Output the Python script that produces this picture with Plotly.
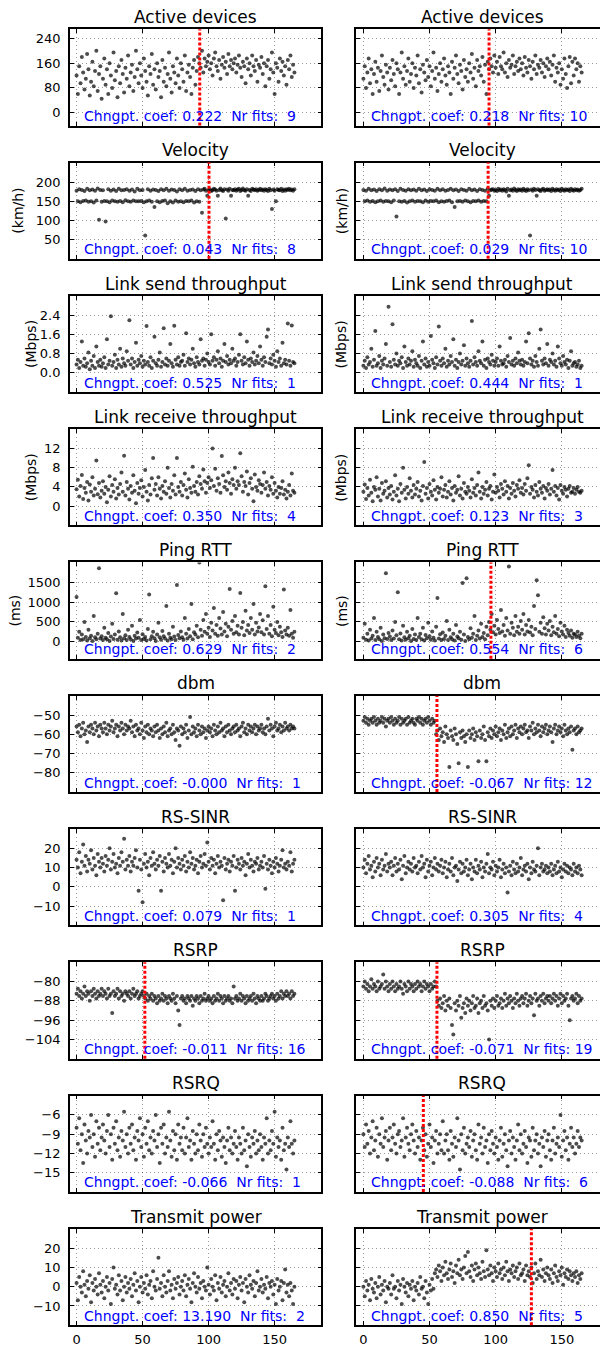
import plotly.graph_objects as go

# sample index (time axis) shared by every panel
minutes = list(range(166))

active_l = [120,60,150,95,180,130,75,110,190,140,55,100,165,85,135,200,70,125,150,45,
110,175,90,140,60,160,120,80,195,105,135,50,150,95,170,125,65,145,110,185,
85,130,155,70,115,200,140,95,160,120,80,175,135,100,55,150,125,190,90,140,
75,160,115,135,50,170,100,145,85,125,195,110,65,150,130,95,175,120,80,160,
140,100,185,70,130,155,115,60,145,170,90,135,180,160,145,200,130,175,150,165,
185,140,160,120,175,195,150,135,170,110,155,180,145,165,125,190,150,170,140,160,
175,130,155,185,145,115,165,150,95,175,140,160,120,185,150,135,170,100,155,145,
180,125,160,85,150,170,110,140,195,130,60,160,145,100,175,135,165,120,150,90,
170,140,185,115,155,130]
active_r = [110,150,80,130,175,95,140,60,125,165,100,145,70,135,185,115,90,155,130,75,
145,105,170,125,85,160,140,60,130,195,110,150,90,135,175,100,125,160,80,145,
120,185,95,140,65,155,130,105,170,115,150,85,135,195,110,145,70,125,160,100,
140,175,120,90,150,130,60,165,110,145,185,125,95,155,135,75,170,115,140,100,
160,130,190,110,145,85,170,135,150,120,180,100,155,60,165,140,175,150,130,185,
145,165,125,180,150,140,195,130,160,115,170,145,155,185,125,150,165,135,175,140,
160,120,180,145,130,170,150,110,165,140,185,125,155,145,170,130,160,115,150,175,
140,165,120,155,185,100,145,130,160,90,140,110,175,125,80,150,180,95,165,120,
175,140,160,100,150,130]

velocity_l = [178,150,182,148,180,151,177,152,183,149,179,150,181,147,178,152,184,102,180,149,
179,151,97,150,182,148,178,152,181,150,177,149,183,151,179,148,180,153,182,150,
178,149,181,152,176,150,183,150,179,151,180,148,60,150,182,152,178,149,181,135,
180,150,177,148,182,151,179,152,183,145,178,150,181,147,180,152,176,149,182,150,
179,148,183,151,178,150,180,152,181,147,177,150,182,149,179,120,181,183,178,165,
180,182,177,179,183,181,178,165,180,184,179,177,182,105,181,178,183,165,180,179,
182,178,181,183,177,180,184,179,178,182,165,180,177,183,181,179,182,178,180,183,
179,181,178,182,180,177,183,179,130,181,178,150,182,180,179,183,177,181,178,182,
180,183,179,181,178,182]
velocity_r = [180,150,178,152,183,149,179,151,181,148,177,150,182,152,179,149,184,151,178,150,
181,148,179,152,182,110,177,150,183,149,180,151,178,147,182,150,179,152,181,149,
178,151,183,150,179,148,181,152,177,149,182,151,180,150,178,152,183,148,179,150,
182,149,178,151,180,152,183,148,179,135,181,150,177,151,182,149,180,152,178,150,
183,148,179,151,181,150,177,152,182,149,180,151,178,150,183,165,179,181,182,178,
180,177,183,179,181,178,182,180,176,183,165,179,181,178,184,180,177,182,179,181,
178,183,180,177,182,179,60,181,178,183,180,165,182,179,177,181,183,178,180,182,
179,181,177,183,180,178,182,179,181,177,183,180,178,182,179,181,177,183,180,178,
182,179,181,178,180,183]

send_l = [0.35,0.55,0.2,0.45,1.3,0.3,0.6,0.25,0.4,0.85,0.15,0.5,0.3,0.7,0.2,1.1,0.45,0.3,0.55,0.25,
0.4,0.65,0.2,1.4,0.35,0.5,2.35,0.3,0.45,0.75,0.2,0.55,0.35,1.0,0.25,0.6,0.4,0.3,0.9,0.5,
2.19,0.35,0.6,0.2,0.45,1.25,0.3,0.55,0.4,0.7,0.25,0.5,0.35,1.95,0.45,0.3,0.65,0.2,0.5,1.5,
0.4,0.3,0.55,0.85,0.25,0.45,1.85,0.35,0.6,0.3,0.5,1.2,0.4,0.25,1.96,0.55,0.35,0.65,0.3,0.45,
0.5,0.75,0.3,1.65,0.45,0.6,0.35,0.55,1.0,0.4,0.25,0.65,0.45,0.35,1.4,0.5,0.6,0.3,0.55,0.8,
0.45,0.35,1.6,0.5,0.65,0.3,0.55,0.9,0.4,0.6,0.25,0.5,1.2,0.45,0.7,0.35,0.55,0.4,1.0,0.5,
0.6,0.3,0.45,0.75,1.6,0.5,0.35,0.65,0.4,1.3,0.55,0.3,0.6,0.45,0.85,0.35,0.5,0.7,0.4,1.1,
0.55,0.3,0.65,0.45,1.5,1.8,0.4,0.6,0.35,0.75,0.5,0.25,0.9,0.45,0.6,0.3,1.25,0.4,0.55,0.35,
2.05,0.5,0.3,1.97,0.45,0.4]
send_r = [0.3,0.5,0.2,0.65,0.35,0.45,1.0,0.25,0.55,1.74,0.3,0.4,0.7,0.2,0.5,0.35,0.6,1.2,0.3,2.75,
0.45,0.25,2.02,0.55,0.35,0.8,0.3,0.5,0.4,0.65,0.2,1.1,0.45,0.3,0.6,0.35,0.5,0.9,0.25,0.55,
0.4,0.3,0.7,0.2,0.5,1.3,0.35,0.6,0.25,0.45,0.3,1.53,0.55,0.4,0.2,0.65,0.35,1.93,0.5,0.3,
0.6,0.4,1.0,0.25,0.5,0.35,0.7,0.45,1.4,0.3,0.55,0.2,0.45,0.8,0.35,0.5,1.15,0.3,0.6,0.4,
0.25,0.5,2.16,0.35,0.65,0.45,0.3,0.9,0.5,0.4,1.3,0.3,0.55,0.2,0.6,0.45,0.35,0.75,0.5,0.3,
0.45,0.6,0.3,1.1,0.5,0.35,0.4,0.55,0.25,0.7,0.45,1.45,0.35,0.5,0.3,0.6,0.4,0.85,0.5,0.35,
0.55,0.3,0.45,1.3,0.4,1.65,0.6,0.35,0.5,0.25,0.7,0.45,0.3,1.0,1.8,0.5,0.35,0.6,0.4,1.2,
0.3,0.55,0.45,0.8,0.35,0.5,0.25,1.1,0.6,0.4,0.3,0.7,0.45,0.35,0.55,0.2,0.5,0.9,0.3,0.4,
0.45,0.25,0.35,0.5,0.2,0.3]

recv_l = [3.5,5.5,2.0,4.2,6.5,1.5,3.8,2.8,5.0,1.2,4.5,3.0,6.0,2.2,3.6,9.5,2.5,4.8,1.8,3.2,
5.2,2.6,4.0,0.8,3.4,6.2,2.0,4.4,3.0,5.6,1.6,3.8,2.4,4.6,7.0,3.0,10.5,2.2,5.0,3.6,
1.4,4.2,2.8,6.4,3.2,0.6,4.8,2.6,3.8,5.4,2.0,4.0,7.5,3.0,1.2,4.4,2.4,5.8,10.0,3.4,
4.6,2.2,6.0,3.6,1.6,4.2,3.0,5.2,2.6,8.0,3.8,1.8,4.6,3.2,6.4,2.4,10.0,4.0,3.0,5.0,
2.2,4.4,6.8,3.4,1.8,5.6,3.8,2.8,8.2,4.2,3.0,5.0,2.4,6.2,4.6,3.6,7.6,5.2,2.8,4.8,
6.0,3.8,5.4,12.0,4.2,7.8,3.2,5.8,4.6,2.8,10.4,6.4,4.0,5.2,3.4,7.0,4.8,2.6,5.6,4.4,
8.0,3.6,5.2,4.4,11.0,6.2,3.0,5.0,4.2,7.2,2.4,4.8,5.8,3.6,1.0,6.6,4.0,3.2,5.4,4.6,
2.8,4.4,7.0,3.6,5.0,2.2,4.2,3.4,6.0,2.6,4.8,3.2,1.8,4.0,2.6,3.8,5.2,2.4,3.4,1.6,
3.0,4.4,2.2,6.8,3.2,2.8]
recv_r = [3.0,4.5,1.5,3.8,2.2,5.5,2.8,1.0,4.0,3.4,6.0,2.0,3.6,1.2,4.8,2.6,3.2,5.2,1.8,3.8,
2.4,4.2,1.4,3.0,6.4,2.2,3.6,1.0,4.6,2.8,8.0,3.4,1.6,4.0,2.6,5.8,3.2,1.8,4.4,2.4,
3.6,5.0,2.0,3.2,1.2,4.2,9.2,2.6,3.8,1.6,4.6,3.0,2.2,5.4,3.4,1.4,4.0,2.8,3.6,6.0,
2.0,3.4,4.4,1.8,3.0,5.2,2.4,3.8,1.2,4.2,2.8,3.4,6.2,2.2,3.6,1.6,4.8,3.0,2.6,4.0,
3.2,1.8,5.6,2.8,3.8,2.2,4.4,7.0,3.0,1.6,4.0,2.6,3.4,5.0,2.2,3.6,4.2,1.4,3.0,6.6,
2.8,4.0,3.2,1.8,4.6,3.6,2.4,5.2,3.0,4.2,1.6,3.8,2.6,4.8,3.2,2.0,4.4,3.6,5.4,2.8,
3.8,2.4,4.6,3.2,5.8,8.5,2.6,4.0,3.4,1.8,4.4,3.0,2.2,5.0,3.6,2.8,4.2,1.6,3.8,3.2,
4.6,2.4,3.6,7.5,3.0,4.2,2.2,3.8,1.4,4.4,3.2,2.6,4.0,3.4,2.0,3.6,4.2,2.8,3.0,3.8,
2.6,3.4,4.0,3.0,2.8,3.2]

ping_l = [1130,100,250,40,180,60,500,120,30,300,90,150,20,650,110,60,200,1855,80,140,
40,350,100,60,220,20,130,450,70,180,1220,50,260,110,30,700,90,160,40,300,
120,60,400,20,150,80,230,100,550,40,190,70,120,30,320,1190,60,140,250,90,
20,180,480,110,50,270,140,80,900,30,200,100,60,380,130,40,1430,170,90,260,
110,50,600,200,80,320,140,950,60,240,180,400,110,2000,300,150,550,250,700,200,
350,120,480,280,850,200,420,150,600,330,180,750,260,450,140,380,1330,300,520,200,
650,240,400,180,1230,350,500,160,780,280,420,220,600,300,950,180,480,260,360,700,
240,540,180,1400,320,650,200,420,140,880,300,220,500,160,380,240,120,1320,280,180,
350,150,800,200,100,250]
ping_r = [100,450,50,200,30,300,80,150,600,40,250,120,60,350,20,180,90,1730,70,220,
130,40,280,80,500,160,1250,60,210,30,400,110,50,250,90,150,20,320,70,180,
40,600,120,200,60,350,30,170,90,480,140,50,260,100,30,380,1100,80,190,40,
230,70,150,520,40,300,110,60,200,30,420,130,90,250,50,1480,180,20,1600,120,
60,340,100,200,650,40,150,280,80,450,120,220,60,380,160,500,300,700,240,400,
180,550,320,220,800,260,420,150,600,280,1900,200,480,350,160,650,250,380,200,520,
300,700,180,420,260,550,230,380,160,900,320,1550,1170,250,480,200,620,340,180,450,
280,520,160,380,240,650,200,320,140,480,260,180,400,120,300,220,150,280,100,200,
180,120,250,150,90,200]

dbm_l = [-56,-59,-55,-61,-57,-54,-60,-58,-64,-56,-59,-55,-57,-60,-54,-58,-56,-61,-55,-57,
-59,-54,-57,-60,-55,-58,-56,-53,-59,-57,-55,-61,-56,-58,-54,-57,-60,-55,-58,-56,
-57,-53,-59,-56,-61,-55,-58,-57,-60,-54,-58,-62,-56,-59,-55,-60,-57,-58,-61,-56,
-59,-55,-58,-62,-57,-60,-56,-59,-54,-61,-58,-57,-60,-55,-59,-63,-57,-58,-66,-56,
-60,-57,-59,-55,-62,-58,-51,-60,-56,-59,-57,-61,-55,-58,-60,-56,-59,-57,-62,-58,
-56,-59,-57,-61,-55,-58,-60,-56,-59,-54,-58,-57,-61,-56,-59,-55,-58,-60,-57,-56,
-59,-55,-58,-57,-61,-56,-54,-59,-57,-60,-55,-58,-56,-59,-57,-55,-60,-56,-58,-57,
-55,-59,-57,-60,-56,-52,-58,-55,-57,-61,-56,-54,-58,-57,-55,-59,-56,-58,-54,-57,
-56,-58,-55,-57,-56,-57]
dbm_r = [-53,-51,-54,-52,-55,-53,-52,-54,-51,-53,-55,-52,-54,-53,-51,-54,-52,-56,-53,-52,
-54,-51,-53,-55,-52,-54,-53,-51,-55,-52,-54,-53,-52,-55,-51,-54,-53,-52,-54,-55,
-52,-53,-51,-54,-52,-55,-53,-52,-54,-51,-53,-55,-52,-54,-53,-60,-58,-63,-57,-61,
-59,-64,-56,-60,-62,-77,-58,-61,-63,-57,-60,-65,-75,-59,-62,-58,-61,-64,-60,-77,
-58,-62,-60,-57,-63,-59,-61,-74,-58,-62,-60,-56,-63,-74,-59,-61,-57,-62,-58,-60,
-56,-61,-59,-57,-63,-58,-60,-55,-62,-59,-57,-61,-56,-60,-58,-55,-62,-57,-59,-56,
-60,-57,-55,-59,-58,-62,-56,-58,-54,-60,-57,-59,-55,-58,-61,-56,-59,-57,-55,-60,
-58,-56,-59,-64,-57,-55,-60,-58,-56,-59,-57,-61,-55,-58,-60,-57,-59,-56,-68,-58,
-57,-60,-56,-59,-58,-57]

sinr_l = [14,10,18,7,13,22,11,16,8,14,12,19,9,15,11,6,17,13,10,15,
12,8,16,11,14,20,9,13,17,10,12,7,15,11,18,13,25,9,14,11,
16,8,13,11,15,19,10,-2,14,9,-8,12,17,10,13,6,15,11,18,12,
9,14,11,16,-2,13,8,15,12,10,17,11,14,7,13,20,10,15,12,9,
14,11,16,8,13,10,18,12,15,9,11,14,7,13,16,10,12,17,11,23,
13,9,15,11,14,7,12,16,10,13,11,-7,15,9,12,14,8,13,11,16,
-2,10,14,12,9,15,11,13,6,12,17,10,14,11,8,13,12,15,9,11,
13,10,16,-1,12,9,14,11,7,13,10,15,12,8,11,14,19,10,12,9,
13,11,18,8,12,14]
sinr_r = [10,14,7,12,16,9,11,5,13,8,15,10,12,6,14,9,11,17,8,12,
10,13,6,11,15,8,12,9,14,4,11,16,7,10,13,9,12,8,15,10,
11,7,13,9,16,10,12,5,14,8,11,13,6,10,15,9,12,8,11,14,
7,10,13,5,9,12,8,15,6,10,11,3,9,13,7,12,8,10,14,6,
9,12,4,10,8,14,7,11,9,13,5,10,8,12,17,7,10,9,13,6,
11,8,10,14,5,9,12,7,10,-3,8,11,6,13,9,7,12,8,10,15,
6,9,11,8,12,4,10,7,13,9,8,11,20,6,10,12,8,9,11,7,
10,8,12,6,9,11,7,13,8,10,5,9,12,8,11,7,10,9,6,12,
8,10,7,11,9,6]

rsrp_l = [-85,-83,-86,-84,-87,-85,-82,-86,-84,-85,-88,-84,-86,-83,-85,-87,-84,-86,-85,-83,
-86,-84,-85,-87,-83,-86,-85,-93,-84,-86,-85,-83,-87,-84,-86,-85,-88,-84,-85,-86,
-84,-87,-85,-83,-86,-85,-84,-87,-86,-85,-84,-86,-87,-85,-88,-86,-87,-85,-88,-86,
-87,-89,-86,-88,-87,-85,-88,-86,-87,-89,-86,-87,-88,-85,-87,-89,-86,-92,-98,-87,
-86,-88,-87,-89,-86,-87,-88,-86,-90,-87,-88,-86,-87,-89,-86,-88,-87,-85,-88,-87,
-86,-88,-87,-89,-86,-88,-87,-85,-88,-86,-87,-89,-86,-88,-87,-86,-88,-87,-89,-82,
-87,-86,-88,-87,-85,-88,-86,-87,-89,-86,-88,-87,-86,-88,-85,-87,-89,-86,-87,-88,
-86,-88,-87,-85,-86,-88,-87,-86,-85,-87,-86,-88,-85,-87,-86,-84,-87,-85,-86,-84,
-86,-85,-87,-84,-86,-85]
rsrp_r = [-82,-80,-83,-81,-84,-82,-79,-83,-81,-82,-84,-80,-83,-82,-81,-77,-83,-80,-82,-84,
-81,-83,-80,-82,-84,-81,-83,-82,-80,-83,-85,-81,-82,-84,-80,-83,-81,-82,-84,-81,
-83,-80,-82,-81,-84,-82,-80,-83,-81,-82,-84,-81,-83,-82,-80,-82,-88,-90,-87,-91,
-89,-86,-92,-88,-90,-87,-91,-98,-102,-89,-92,-88,-90,-86,-95,-91,-89,-93,-87,-90,
-88,-92,-89,-86,-91,-90,-87,-93,-89,-88,-91,-86,-90,-89,-92,-104,-88,-90,-87,-91,
-88,-86,-90,-89,-87,-91,-88,-85,-90,-87,-89,-86,-88,-91,-87,-89,-85,-88,-90,-87,
-86,-89,-87,-85,-90,-88,-86,-89,-87,-94,-85,-88,-87,-90,-86,-88,-85,-89,-87,-86,
-88,-86,-89,-87,-85,-88,-86,-90,-87,-85,-89,-86,-88,-87,-85,-90,-96,-87,-86,-88,
-87,-85,-89,-86,-88,-87]

rsrq_l = [-8,-10.5,-6.5,-11.5,-9,-13.5,-7.5,-10,-12,-8.5,-9.5,-6,-11,-9,-12.5,-7,-10.5,-8,-11.5,-9.5,
-7.5,-10,-12,-8.5,-6,-11,-9,-13,-8,-10.5,-7,-11.5,-9.5,-12.5,-8.5,-10,-5.5,-11,-9,-12,
-8,-10.5,-7.5,-11.5,-9.5,-13,-8.5,-10,-6.5,-11,-9,-12.5,-8,-10.5,-7,-11.5,-9.5,-12,-8.5,-10,
-6,-11,-9,-13.5,-8,-10.5,-7.5,-12,-9.5,-11,-5.5,-10,-12.5,-8.5,-11.5,-9,-13,-7.5,-10.5,-9.5,
-11.5,-8,-12,-9.5,-6.5,-11,-10,-13,-8.5,-10.5,-12,-9,-11.5,-7.5,-10,-12.5,-9,-11,-8,-10.5,
-12,-9.5,-11,-7,-10.5,-13,-9,-11.5,-8.5,-10,-12.5,-9.5,-11,-13.5,-10,-8,-11.5,-9.5,-12,-10.5,
-8.5,-11,-13,-9.5,-10.5,-12,-8,-11.5,-10,-14,-9,-11,-12.5,-9.5,-10.5,-8.5,-12,-10,-11.5,-9,
-11,-13,-9.5,-10.5,-6.5,-12,-10,-11.5,-8.5,-10.5,-5.5,-12.5,-9.5,-11,-10,-13,-8,-11.5,-10.5,-14.5,
-9.5,-11,-7,-10.5,-12,-10]
rsrq_r = [-9,-11,-7.5,-10.5,-8.5,-12,-9.5,-7,-11.5,-10,-8,-12.5,-9,-10.5,-6.5,-11,-9.5,-8.5,-13,-10,
-8,-11.5,-9.5,-7.5,-10.5,-12,-9,-8.5,-11,-10,-6.5,-12.5,-9.5,-8,-10.5,-11.5,-9,-7.5,-10,-12,
-8.5,-11,-9.5,-13,-10,-8,-11.5,-9,-12.5,-10.5,-7.5,-11,-9.5,-13.5,-10,-8.5,-12,-10.5,-9,-11.5,
-7,-12,-10,-9,-11.5,-13,-8.5,-10.5,-12.5,-9.5,-11,-6.5,-10,-14.5,-9,-11.5,-8,-12,-10.5,-9.5,
-11,-8.5,-12.5,-10,-9,-11.5,-13,-7.5,-10.5,-9.5,-12,-8,-11,-10,-13.5,-9,-11.5,-8.5,-10.5,-12,
-9.5,-11,-13,-10,-8,-12.5,-10.5,-9,-11.5,-14,-10,-8.5,-12,-9.5,-11,-13,-10,-7.5,-11.5,-9,
-12,-10.5,-8.5,-11,-13.5,-9.5,-10,-12.5,-8,-11.5,-10,-9,-12,-10.5,-14,-9.5,-11,-8.5,-12.5,-10,
-9,-11.5,-13,-10,-8,-12,-10.5,-9.5,-11,-6,-12.5,-10,-8.5,-11.5,-9.5,-13,-10.5,-8,-11,-9.5,
-12,-10.5,-8.5,-11,-9.5,-10]

txpow_l = [2,-7,5,0,-3,8,1,-5,3,-1,6,-8,2,-2,4,0,-4,7,1,-3,
3,-6,0,5,-2,2,-9,4,10,-1,1,-4,6,-2,3,-7,0,5,-3,2,
-1,4,-5,1,7,-2,3,-8,0,5,-3,2,-1,6,-4,1,3,-6,8,0,
-2,4,15,-1,2,-5,6,0,-3,3,8,-2,1,-6,4,-1,2,5,-4,0,
3,-2,6,-5,1,4,-1,-8,2,7,0,-3,5,-1,2,-6,3,0,-2,10,
1,-4,4,0,-2,6,-7,2,-1,5,-3,1,3,-5,0,7,-2,2,-4,4,
-1,3,-6,1,5,-2,2,-8,4,0,-3,6,1,-1,3,-5,2,8,-2,0,
4,-3,1,-1,5,-6,2,0,3,-4,1,-9,4,-2,0,3,-7,2,9,-3,
1,-5,2,-2,-9,0]
txpow_r = [0,-5,3,-2,1,-7,4,-1,-3,2,-6,0,5,-4,1,-2,3,-8,0,-1,
2,-4,6,-1,0,-6,3,-2,1,-9,4,0,-3,2,-5,1,-1,3,-7,0,
-2,2,-4,5,-1,0,-6,3,-3,-9,1,-2,4,-1,7,9,5,11,8,3,
10,6,13,7,4,9,12,5,8,2,11,7,14,6,9,4,10,16,7,18,
8,5,11,3,9,12,6,10,7,4,13,8,5,19,9,6,11,7,3,10,
8,5,12,7,9,4,10,6,13,8,3,9,7,11,5,8,10,4,12,6,
7,9,3,11,6,8,5,10,2,7,12,4,8,6,14,5,9,3,7,10,
6,4,9,2,7,11,5,3,8,6,10,1,7,5,9,4,8,6,3,7,
5,8,2,6,4,7]

titles = ["Active devices", "Velocity", "Link send throughput", "Link receive throughput",
          "Ping RTT", "dbm", "RS-SINR", "RSRP", "RSRQ", "Transmit power"]
units = ["", "(km/h)", "(Mbps)", "(Mbps)", "(ms)", "", "", "", "", ""]
left_series = [active_l, velocity_l, send_l, recv_l, ping_l, dbm_l, sinr_l, rsrp_l, rsrq_l, txpow_l]
right_series = [active_r, velocity_r, send_r, recv_r, ping_r, dbm_r, sinr_r, rsrp_r, rsrq_r, txpow_r]

y_ranges = [[-42, 270], [-1, 252], [-0.8, 3.2], [-4, 16], [-430, 2000],
            [-90, -40], [-20, 30], [-112, -72], [-18, -3], [-20, 30]]
y_ticks = [[0, 80, 160, 240], [50, 100, 150, 200], [0.0, 0.8, 1.6, 2.4], [0, 4, 8, 12],
           [0, 500, 1000, 1500], [-80, -70, -60, -50], [-10, 0, 10, 20],
           [-104, -96, -88, -80], [-15, -12, -9, -6], [-10, 0, 10, 20]]
y_tickfmt = ["", "", ".1f", "", "", "", "", "", "", ""]
x_ticks = [0, 50, 100, 150]

coef_l = [0.222, 0.043, 0.525, 0.350, 0.629, -0.000, 0.079, -0.011, -0.066, 13.190]
fits_l = [9, 8, 1, 4, 2, 1, 1, 16, 1, 2]
coef_r = [0.218, 0.029, 0.444, 0.123, 0.554, -0.067, 0.305, -0.071, -0.088, 0.850]
fits_r = [10, 10, 1, 3, 6, 12, 4, 19, 6, 5]
chg_l = [93.3, 100.3, None, None, None, None, None, 51.7, None, None]
chg_r = [95.0, 94.3, None, None, 96.4, 55.6, None, 55.6, 45.3, 127.0]

# ---------------- layout geometry (page pixels) ----------------
OFF = 8                      # page body margin around the plot div
W, H = 608 - OFF, 1347 - OFF
FONT = "DejaVu Sans"
col_px = [(70, 322), (357, 607.5)]
x_ranges = [[-5.05, 185.5], [-5.28, 183.8]]
TOP0, PITCH, PH = 29.3, 133.6, 96.5
ylab_px_l = {1: 18, 2: 31, 3: 31, 4: 15}
ylab_px_r = 342


def px2x(p):
    return (p - OFF) / W


def px2y(p):
    return 1 - (p - OFF) / H


GRID = dict(showgrid=True, gridcolor="rgba(0,0,0,0.4)", gridwidth=1, griddash="1px,3px")
LINE = dict(showline=True, linecolor="black", linewidth=1.5, mirror="ticks",
            ticks="inside", ticklen=4, tickwidth=1, tickcolor="black", zeroline=False)
TICKFONT = dict(family=FONT, size=13, color="black")

fig = go.Figure()
annotations = []
shapes = []
layout = {}

for r in range(10):
    top = TOP0 + PITCH * r
    bot = top + PH
    for c in range(2):
        k = r * 2 + c + 1
        xs = "" if k == 1 else str(k)
        ys = xs
        series = left_series[r] if c == 0 else right_series[r]
        fig.add_trace(go.Scatter(
            x=minutes, y=series, mode="markers", xaxis="x" + xs, yaxis="y" + ys,
            marker=dict(size=4, color="rgba(0,0,0,0.7)", line=dict(width=0)),
            hoverinfo="skip", showlegend=False, cliponaxis=True))
        x0p, x1p = col_px[c]
        layout["xaxis" + xs] = dict(
            domain=[px2x(x0p), px2x(x1p)], range=x_ranges[c], anchor="y" + ys,
            tickvals=x_ticks, showticklabels=(r == 9), tickfont=TICKFONT,
            ticklabelstandoff=1, **GRID, **LINE)
        layout["yaxis" + ys] = dict(
            domain=[px2y(bot), px2y(top)], range=y_ranges[r], anchor="x" + xs,
            tickvals=y_ticks[r], tickformat=y_tickfmt[r], showticklabels=(c == 0),
            tickfont=TICKFONT, ticklabelstandoff=5, **GRID, **LINE)
        # title
        annotations.append(dict(
            text=titles[r], x=px2x((x0p + x1p + (1.5 if c == 1 else 0)) / 2), y=px2y(top - 12.3),
            xref="paper", yref="paper", xanchor="center", yanchor="middle",
            showarrow=False, font=dict(family=FONT, size=17, color="black")))
        # change-point text
        coef = coef_l[r] if c == 0 else coef_r[r]
        nf = fits_l[r] if c == 0 else fits_r[r]
        label = f"Chngpt. coef: {coef:.3f}  Nr fits: {nf:2d}".replace(" ", "\u00a0")
        annotations.append(dict(
            text=label, x=px2x(x0p + 12.2), y=px2y(bot), yshift=-0.5,
            xref="paper", yref="paper", xanchor="left", yanchor="bottom",
            showarrow=False, font=dict(family=FONT, size=14, color="#0000ff")))
        # unit label
        if units[r]:
            xl = ylab_px_l[r] if c == 0 else ylab_px_r
            annotations.append(dict(
                text=units[r], x=px2x(xl), y=px2y((top + bot) / 2), textangle=-90,
                xref="paper", yref="paper", xanchor="center", yanchor="middle",
                showarrow=False, font=dict(family=FONT, size=14, color="black")))
        # change point marker line
        cp = chg_l[r] if c == 0 else chg_r[r]
        if cp is not None:
            shapes.append(dict(
                type="line", xref="x" + xs, yref="y" + ys + " domain",
                x0=cp, x1=cp, y0=0, y1=1,
                line=dict(color="red", width=3, dash="3px,2px")))

fig.update_layout(
    width=W, height=H, margin=dict(l=0, r=0, t=0, b=0),
    plot_bgcolor="white", paper_bgcolor="white", showlegend=False,
    font=dict(family=FONT, color="black"),
    annotations=annotations, shapes=shapes, **layout)

fig.write_html("out.html")
